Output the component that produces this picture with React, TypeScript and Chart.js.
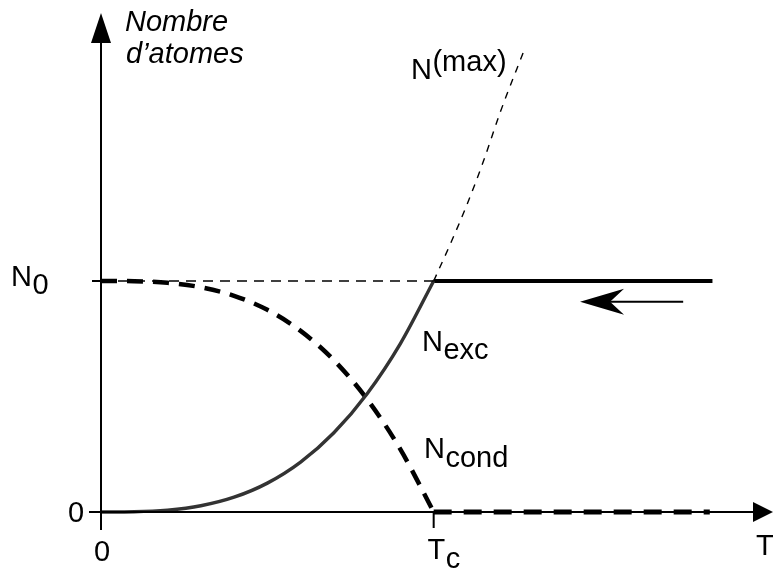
import React, { useEffect, useRef } from "react";
import { Chart, registerables } from "chart.js";

Chart.register(...registerables);

// Reduced temperature T/Tc and atom numbers N/N0
const T_EXC = [0, 0.1, 0.2, 0.3, 0.4, 0.5, 0.6, 0.7, 0.8, 0.9, 1.0];
const N_EXC = [0, 0.001, 0.008, 0.027, 0.064, 0.125, 0.216, 0.343, 0.512, 0.729, 1.0];

const T_COND = [0, 0.1, 0.2, 0.3, 0.4, 0.5, 0.6, 0.7, 0.8, 0.9, 1.0];
const N_COND = [1.0, 0.999, 0.992, 0.973, 0.936, 0.875, 0.784, 0.657, 0.488, 0.271, 0];

const T_MAX = [1.0, 1.05, 1.1, 1.15, 1.2, 1.275];
const N_MAX = [1.0, 1.16, 1.33, 1.52, 1.73, 2.01];

const T_ABOVE = [1.0, 1.838];
const N_ABOVE_EXC = [1.0, 1.0];
const T_ZERO = [1.0, 1.83];
const N_ABOVE_COND = [0, 0];
const T_N0REF = [0, 1.0];
const N_N0REF = [1.0, 1.0];

const TC = 1.0;
const N0 = 1.0;
const X_MAX = 2.02;
const Y_MAX = 2.16;

// cooling arrow (T/Tc from -> to, at level N/N0)
const ARROW_FROM = 1.75;
const ARROW_TO = 1.44;
const ARROW_LEVEL = 0.91;

const FONT = '"Liberation Sans", Arial, Helvetica, sans-serif';

const pts = (xs: number[], ys: number[]) => xs.map((x, i) => ({ x, y: ys[i] }));

export default function App() {
  const ref = useRef<HTMLCanvasElement | null>(null);

  useEffect(() => {
    if (!ref.current) return;

    const decor = {
      id: "decor",
      afterDatasetsDraw(chart: any) {
        const ctx = chart.ctx as CanvasRenderingContext2D;
        const xs = chart.scales.x;
        const ys = chart.scales.y;
        const area = chart.chartArea;
        const x0 = xs.getPixelForValue(0);
        const y0 = ys.getPixelForValue(0);
        const xTc = xs.getPixelForValue(TC);
        const yN0 = ys.getPixelForValue(N0);
        ctx.save();
        ctx.strokeStyle = "#000";
        ctx.fillStyle = "#000";
        ctx.lineWidth = 2;
        ctx.setLineDash([]);
        ctx.lineCap = "butt";

        // x axis
        ctx.beginPath();
        ctx.moveTo(x0 - 12, y0);
        ctx.lineTo(area.right - 16, y0);
        ctx.stroke();
        ctx.beginPath();
        ctx.moveTo(area.right, y0);
        ctx.lineTo(area.right - 20, y0 - 10);
        ctx.lineTo(area.right - 20, y0 + 10);
        ctx.closePath();
        ctx.fill();

        // y axis
        ctx.beginPath();
        ctx.moveTo(x0, y0 + 18);
        ctx.lineTo(x0, area.top + 26);
        ctx.stroke();
        ctx.beginPath();
        ctx.moveTo(x0, area.top);
        ctx.lineTo(x0 - 10, area.top + 30);
        ctx.lineTo(x0 + 10, area.top + 30);
        ctx.closePath();
        ctx.fill();

        // ticks
        ctx.beginPath();
        ctx.moveTo(x0 - 9, yN0);
        ctx.lineTo(x0, yN0);
        ctx.moveTo(xTc, y0);
        ctx.lineTo(xTc, y0 + 16);
        ctx.stroke();

        // cooling arrow
        const ay = ys.getPixelForValue(ARROW_LEVEL);
        const ax1 = xs.getPixelForValue(ARROW_FROM);
        const ax2 = xs.getPixelForValue(ARROW_TO);
        ctx.beginPath();
        ctx.moveTo(ax1, ay);
        ctx.lineTo(ax2 + 30, ay);
        ctx.stroke();
        ctx.beginPath();
        ctx.moveTo(ax2, ay);
        ctx.lineTo(ax2 + 44, ay - 13);
        ctx.lineTo(ax2 + 30, ay);
        ctx.lineTo(ax2 + 44, ay + 13);
        ctx.closePath();
        ctx.fill();

        // texts
        const size = 29;
        const font = `${size}px ${FONT}`;
        ctx.textBaseline = "alphabetic";
        const sub = (main: string, s: string, x: number, y: number, dy: number, align = "left") => {
          ctx.font = font;
          const w1 = ctx.measureText(main).width;
          const w2 = ctx.measureText(s).width;
          let left = x;
          if (align === "center") left = x - (w1 + w2) / 2;
          ctx.textAlign = "left";
          ctx.fillText(main, left, y);
          ctx.fillText(s, left + w1 + 0.5, y + dy);
        };

        ctx.font = `italic ${size}px ${FONT}`;
        ctx.textAlign = "left";
        ctx.fillText("Nombre", x0 + 24, 31);
        ctx.fillText("d\u2019atomes", x0 + 25, 63);

        sub("N", "0", 11, yN0 + 5, 8);
        sub("N", "(max)", 411, 79, -8);
        sub("N", "exc", 422, 351, 8);
        sub("N", "cond", 424, 458, 9);

        ctx.font = font;
        ctx.textAlign = "center";
        ctx.fillText("0", x0 - 25, y0 + 10);
        ctx.fillText("0", x0 + 1, y0 + 49);
        sub("T", "c", xTc + 10, y0 + 47, 9, "center");
        ctx.textAlign = "left";
        ctx.fillText("T", 756, y0 + 43);

        ctx.restore();
      },
    };

    const chart = new Chart(ref.current, {
      type: "line",
      data: {
        datasets: [
          {
            label: "N0 ref",
            data: pts(T_N0REF, N_N0REF),
            borderColor: "#000",
            borderWidth: 1.5,
            borderDash: [10, 7],
            pointRadius: 0,
            clip: false,
          },
          {
            label: "Nmax",
            data: pts(T_MAX, N_MAX),
            borderColor: "#000",
            borderWidth: 1.4,
            borderDash: [7, 7],
            pointRadius: 0,
            cubicInterpolationMode: "monotone",
            clip: false,
          },
          {
            label: "Nexc",
            data: pts(T_EXC, N_EXC),
            borderColor: "#333",
            borderWidth: 3.4,
            pointRadius: 0,
            cubicInterpolationMode: "monotone",
            clip: false,
          },
          {
            label: "Nexc above",
            data: pts(T_ABOVE, N_ABOVE_EXC),
            borderColor: "#000",
            borderWidth: 4,
            pointRadius: 0,
            clip: false,
          },
          {
            label: "Ncond",
            data: pts(T_COND, N_COND),
            borderColor: "#000",
            borderWidth: 4.5,
            borderDash: [16, 10],
            pointRadius: 0,
            cubicInterpolationMode: "monotone",
            clip: false,
          },
          {
            label: "Ncond above",
            data: pts(T_ZERO, N_ABOVE_COND),
            borderColor: "#000",
            borderWidth: 5,
            borderDash: [18, 12],
            pointRadius: 0,
            clip: false,
          },
        ],
      },
      options: {
        animation: false,
        responsive: false,
        devicePixelRatio: 1,
        layout: { padding: { left: 101, right: 0, top: 13, bottom: 58 } },
        plugins: { legend: { display: false }, title: { display: false }, tooltip: { enabled: false } },
        scales: {
          x: { type: "linear", min: 0, max: X_MAX, display: false },
          y: { type: "linear", min: 0, max: Y_MAX, display: false },
        },
      },
      plugins: [decor],
    } as any);

    return () => chart.destroy();
  }, []);

  return (
    <div style={{ position: "fixed", left: 0, top: 0, width: 773, height: 570, background: "#fff" }}>
      <canvas ref={ref} width={773} height={570} style={{ display: "block" }} />
    </div>
  );
}
